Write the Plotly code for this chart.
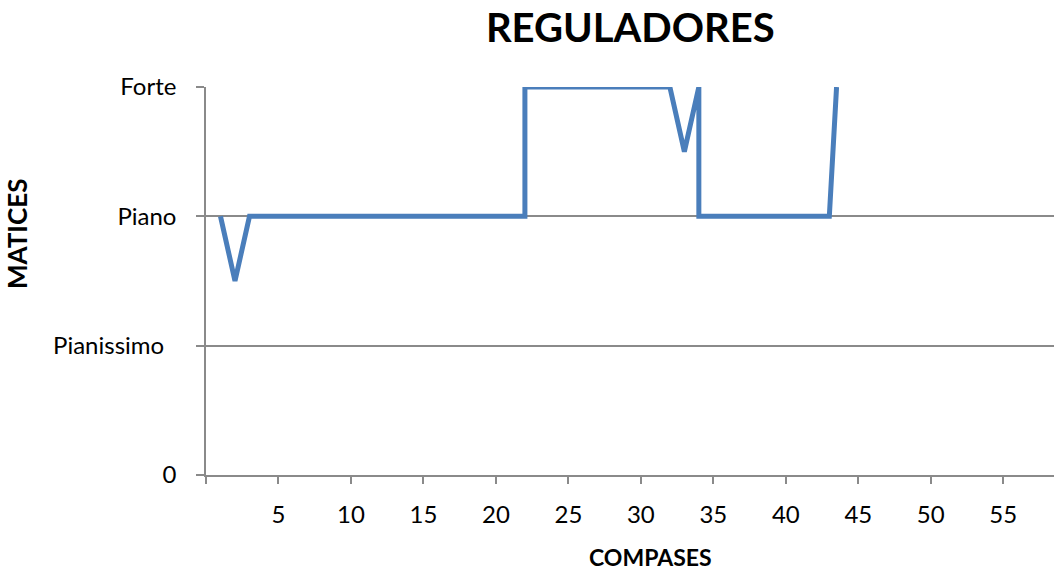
import plotly.graph_objects as go

# Bar number (compás) and dynamic level for each point of the line
compases = [1, 2, 3, 4, 5, 6, 7, 8, 9, 10, 11, 12, 13, 14, 15, 16, 17, 18, 19, 20, 21, 22,
            22, 23, 24, 25, 26, 27, 28, 29, 30, 31, 32,
            33,
            34,
            34, 35, 36, 37, 38, 39, 40, 41, 42, 43,
            43.5]
matices = [2, 1.5, 2, 2, 2, 2, 2, 2, 2, 2, 2, 2, 2, 2, 2, 2, 2, 2, 2, 2, 2, 2,
           3, 3, 3, 3, 3, 3, 3, 3, 3, 3, 3,
           2.5,
           3,
           2, 2, 2, 2, 2, 2, 2, 2, 2, 2,
           3]

# Dynamic level labels on the value axis
niveles = [0, 1, 2, 3]
niveles_txt = ["0", "Pianissimo\u00a0\u00a0", "Piano", "Forte"]

# Bar-number tick marks
x_ticks = [0, 5, 10, 15, 20, 25, 30, 35, 40, 45, 50, 55]
x_ticktext = ["", "5", "10", "15", "20", "25", "30", "35", "40", "45", "50", "55"]

FONT = "Lato, Liberation Sans, sans-serif"
GRID = "#8a8a8a"

fig = go.Figure()
fig.add_trace(go.Scatter(
    x=compases, y=matices, mode="lines",
    line=dict(color="#4a7ebb", width=5),
    showlegend=False, hoverinfo="skip",
))

fig.update_layout(
    width=1054, height=573,
    paper_bgcolor="white", plot_bgcolor="white",
    margin=dict(l=206, r=0, t=87, b=98),
    font=dict(family=FONT, color="#000000", size=24),
    title=dict(text="<b>REGULADORES</b>", x=0.598, xanchor="center",
               y=0.952, yanchor="middle", font=dict(size=40, family=FONT)),
    annotations=[
        dict(text="<b>COMPASES</b>", xref="paper", yref="paper",
             x=0.524, y=-0.212, xanchor="center", yanchor="middle",
             showarrow=False, font=dict(size=23)),
        dict(text="<b>MATICES</b>", xref="paper", yref="paper",
             x=-0.222, y=0.623, xanchor="center", yanchor="middle",
             textangle=-90, showarrow=False, font=dict(size=26)),
    ],
)

fig.update_xaxes(
    range=[0, 58.5], tickvals=x_ticks, ticktext=x_ticktext,
    ticks="outside", ticklen=7, tickwidth=1.5, tickcolor=GRID,
    showline=True, linecolor=GRID, linewidth=1.5,
    showgrid=False, zeroline=False, ticklabelstandoff=10,
)
fig.update_yaxes(
    range=[0, 3], tickvals=niveles, ticktext=niveles_txt,
    ticks="outside", ticklen=8, tickwidth=1.5, tickcolor=GRID,
    showline=True, linecolor=GRID, linewidth=1.5,
    showgrid=True, gridcolor=GRID, gridwidth=1.5, zeroline=False,
    ticklabelstandoff=15,
)

fig.write_html("out.html")
